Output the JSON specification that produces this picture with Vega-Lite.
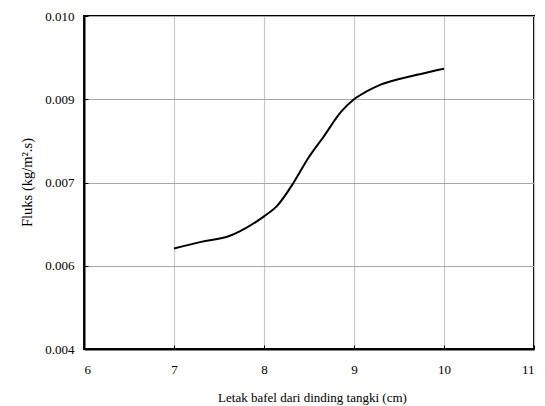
{
  "$schema": "https://vega.github.io/schema/vega-lite/v6.json",
  "autosize": {"type": "none"},
  "padding": {"left": 84, "top": 16, "right": 11, "bottom": 57},
  "width": 450,
  "height": 333,
  "background": "white",
  "config": {
    "font": "Liberation Serif, Times New Roman, DejaVu Serif, serif",
    "view": {"stroke": "black", "strokeWidth": 2},
    "axis": {
      "labelFont": "Liberation Serif, Times New Roman, DejaVu Serif, serif",
      "titleFont": "Liberation Serif, Times New Roman, DejaVu Serif, serif",
      "labelColor": "black",
      "titleColor": "black",
      "labelFontSize": 13,
      "titleFontSize": 13,
      "titleFontWeight": "normal",
      "domainColor": "black",
      "domainWidth": 2,
      "tickColor": "black",
      "tickWidth": 1,
      "tickSize": -4
    }
  },
  "data": {
    "values": [
      {"x": 7.0, "y": 0.00581},
      {"x": 7.3, "y": 0.00593},
      {"x": 7.62, "y": 0.00604},
      {"x": 7.73, "y": 0.00612},
      {"x": 8.0, "y": 0.00639},
      {"x": 8.14, "y": 0.00657},
      {"x": 8.33, "y": 0.00700},
      {"x": 8.48, "y": 0.00741},
      {"x": 8.66, "y": 0.00782},
      {"x": 8.86, "y": 0.00828},
      {"x": 9.0, "y": 0.00850},
      {"x": 9.14, "y": 0.00864},
      {"x": 9.29, "y": 0.00876},
      {"x": 9.4, "y": 0.00882},
      {"x": 9.7, "y": 0.00894},
      {"x": 10.0, "y": 0.00905}
    ]
  },
  "mark": {"type": "line", "color": "black", "strokeWidth": 2, "interpolate": "monotone"},
  "encoding": {
    "x": {
      "field": "x",
      "type": "quantitative",
      "scale": {"domain": [6, 11], "nice": false},
      "axis": {
        "values": [6, 7, 8, 9, 10, 11],
        "title": "Letak bafel dari dinding tangki (cm)",
        "gridColor": "#c8c8c8",
        "gridWidth": 1.2,
        "labelPadding": 18,
        "titleY": 48,
        "titleBaseline": "middle",
        "titleX": 228
      }
    },
    "y": {
      "field": "y",
      "type": "quantitative",
      "scale": {"domain": [0.004, 0.01], "nice": false, "zero": false},
      "axis": {
        "values": [0.004, 0.0055, 0.007, 0.0085, 0.01],
        "labelExpr": "datum.value < 0.0045 ? '0.004' : datum.value < 0.006 ? '0.006' : datum.value < 0.0075 ? '0.007' : datum.value < 0.009 ? '0.009' : '0.010'",
        "title": "Fluks (kg/m².s)",
        "titleFontSize": 14.5,
        "gridColor": "#a8a8a8",
        "gridWidth": 1.2,
        "labelPadding": 14,
        "titleX": -57,
        "titleY": 166,
        "titleBaseline": "middle",
        "titleAlign": "center"
      }
    }
  }
}
